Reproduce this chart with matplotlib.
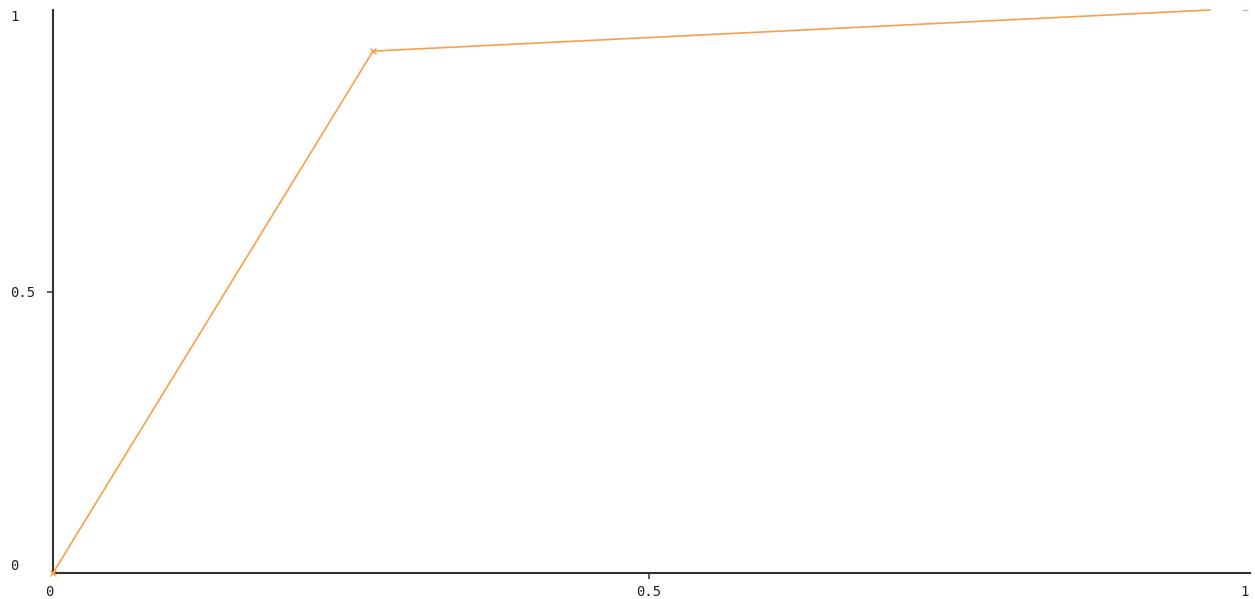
import matplotlib
matplotlib.use("Agg")
import matplotlib.pyplot as plt

# curve points (false positive rate vs true positive rate)
fpr = [0.0, 0.2685, 0.9706]
tpr = [0.0, 0.927, 1.0]
# second series, only its end point shows at the corner
ref_x = [1.0]
ref_y = [1.0]

tick_vals = [0, 0.5, 1]
tick_text = ["0", "0.5", "1"]

W, H = 1255, 599
fig = plt.figure(figsize=(W / 100, H / 100), dpi=100)
ax = fig.add_axes([53 / W, 26 / H, (1250 - 53) / W, (573 - 10) / H])

ax.plot(fpr, tpr, color="#f7a04b", lw=1.2, marker="x", ms=5, mew=1.0,
        markevery=[0, 1], clip_on=False, zorder=3)
ax.plot(ref_x, ref_y, color="#9cc3e6", lw=0, marker="_", ms=5, mew=1,
        clip_on=False, zorder=2)

ax.set_xlim(0, (1250 - 53) / 1192)
ax.set_ylim(0, 1)

for s in ["top", "right"]:
    ax.spines[s].set_visible(False)
for s in ["left", "bottom"]:
    ax.spines[s].set_color("#333333")
    ax.spines[s].set_linewidth(1.5)

mono = dict(family="DejaVu Sans Mono", size=10, color="#222222")

ax.set_xticks(tick_vals)
ax.set_xticklabels(tick_text, **mono)
ax.set_yticks(tick_vals)
ax.set_yticklabels(tick_text, **mono)
ax.tick_params(axis="both", length=4.3, width=1.1, color="#333333")
ax.tick_params(axis="x", pad=4)
ax.tick_params(axis="y", pad=26.5)

# only the middle ticks get a tick mark
for axis in (ax.xaxis, ax.yaxis):
    ticks = axis.get_major_ticks()
    for t in (ticks[0], ticks[-1]):
        t.tick1line.set_visible(False)

for lab in ax.get_yticklabels():
    lab.set_horizontalalignment("left")
ylabs = ax.get_yticklabels()
ylabs[0].set_verticalalignment("bottom")
ylabs[-1].set_verticalalignment("top")
ax.get_xticklabels()[0].set_horizontalalignment("right")

fig.savefig("out.png", dpi=100, facecolor="white")
